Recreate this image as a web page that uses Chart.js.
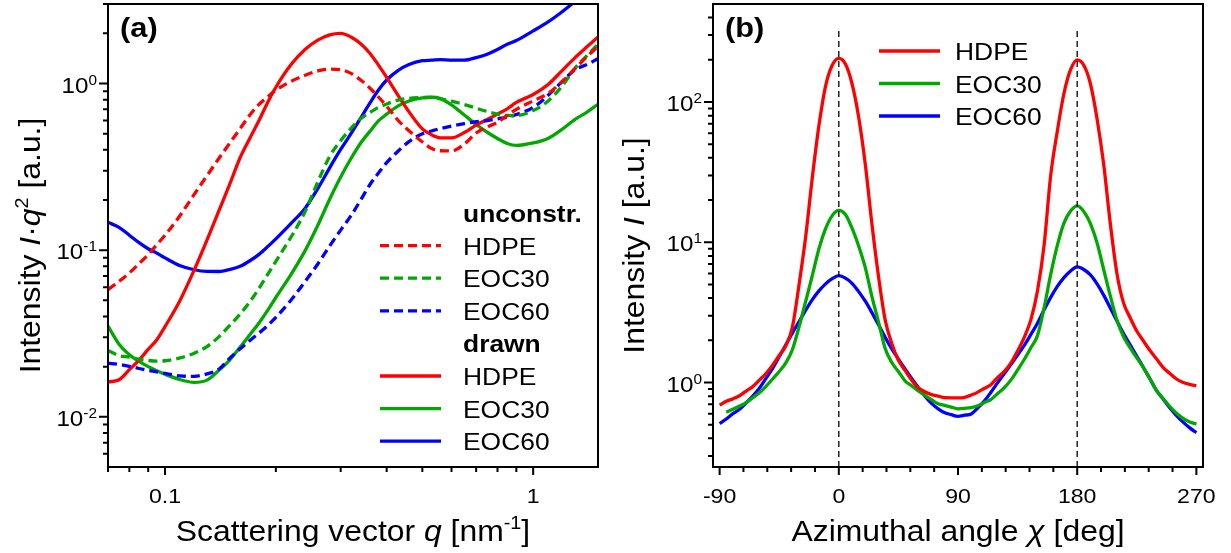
<!DOCTYPE html>
<html>
<head>
<meta charset="utf-8">
<title>Scattering profiles: I·q² and azimuthal intensity</title>
<script src="https://cdn.jsdelivr.net/npm/chart.js@4.4.1/dist/chart.umd.min.js"></script>
<style>
  html, body { margin: 0; padding: 0; background: #fff; }
  #wrap { position: relative; width: 1231px; height: 553px; }
  canvas { position: absolute; top: 0; }
  #chartQ { left: 0; }
  #chartChi { left: 615px; }
</style>
</head>
<body>
<div id="wrap">
  <canvas id="chartQ" width="615" height="553"></canvas>
  <canvas id="chartChi" width="616" height="553"></canvas>
</div>
<script>
// ---- (a) Lorentz-corrected intensity vs. scattering vector ----
const qValues = [0.07, 0.075, 0.08, 0.085, 0.09, 0.095, 0.1, 0.11, 0.12, 0.13, 0.14, 0.15, 0.16, 0.17, 0.18, 0.19,
  0.2, 0.22, 0.24, 0.26, 0.28, 0.3, 0.32, 0.34, 0.36, 0.38, 0.4, 0.43, 0.46, 0.5, 0.53, 0.56, 0.6, 0.65, 0.7, 0.75,
  0.8, 0.85, 0.9, 1.0, 1.1, 1.2, 1.3, 1.4, 1.5];

const hdpeUnconstr = [0.058, 0.065, 0.073, 0.083, 0.094, 0.108, 0.123, 0.162, 0.216, 0.28, 0.355, 0.44, 0.537, 0.648, 0.75, 0.83,
  0.912, 1.03, 1.12, 1.19, 1.22, 1.21, 1.15, 1.05, 0.94, 0.83, 0.73, 0.6, 0.52, 0.446, 0.407, 0.395, 0.394, 0.433, 0.505, 0.548,
  0.586, 0.643, 0.7, 0.787, 0.875, 1.03, 1.23, 1.45, 1.67];
const eoc30Unconstr = [0.025, 0.0233, 0.0228, 0.0222, 0.0218, 0.0216, 0.0217, 0.0226, 0.0241, 0.0264, 0.0302, 0.0354, 0.0414, 0.049, 0.059, 0.0715,
  0.0858, 0.12, 0.17, 0.257, 0.365, 0.454, 0.538, 0.615, 0.67, 0.72, 0.754, 0.796, 0.815, 0.824, 0.826, 0.81, 0.784, 0.748, 0.711, 0.68,
  0.655, 0.643, 0.642, 0.688, 0.789, 0.97, 1.24, 1.47, 1.72];
const eoc60Unconstr = [0.021, 0.0206, 0.0201, 0.0195, 0.019, 0.0186, 0.0182, 0.0176, 0.0175, 0.0181, 0.0193, 0.0225, 0.0256, 0.0287, 0.0318, 0.0353,
  0.0395, 0.0502, 0.0648, 0.0826, 0.106, 0.132, 0.161, 0.2, 0.247, 0.29, 0.335, 0.394, 0.448, 0.499, 0.519, 0.537, 0.555, 0.574, 0.59, 0.598,
  0.614, 0.628, 0.652, 0.718, 0.853, 1.03, 1.21, 1.3, 1.41];
const hdpeDrawn = [0.0162, 0.0167, 0.0192, 0.0219, 0.0254, 0.029, 0.0348, 0.0503, 0.076, 0.115, 0.172, 0.25, 0.36, 0.47, 0.6, 0.77,
  0.95, 1.3, 1.6, 1.82, 1.96, 2.0, 1.9, 1.73, 1.52, 1.29, 1.09, 0.845, 0.676, 0.534, 0.492, 0.472, 0.472, 0.508, 0.563, 0.608,
  0.655, 0.705, 0.77, 0.859, 0.99, 1.2, 1.43, 1.66, 1.9];
const eoc30Drawn = [0.035, 0.0273, 0.0236, 0.0215, 0.02, 0.0189, 0.018, 0.0167, 0.0161, 0.0166, 0.019, 0.022, 0.0262, 0.0311, 0.0366, 0.0435,
  0.052, 0.0716, 0.099, 0.141, 0.202, 0.275, 0.355, 0.44, 0.516, 0.597, 0.655, 0.734, 0.786, 0.82, 0.827, 0.812, 0.745, 0.647, 0.568, 0.51,
  0.468, 0.437, 0.425, 0.44, 0.47, 0.533, 0.61, 0.674, 0.75];
const eoc60Drawn = [0.147, 0.137, 0.123, 0.111, 0.102, 0.096, 0.0899, 0.0806, 0.0763, 0.0746, 0.0745, 0.0766, 0.08, 0.0864, 0.0944, 0.105,
  0.117, 0.145, 0.178, 0.234, 0.312, 0.402, 0.5, 0.62, 0.762, 0.914, 1.05, 1.2, 1.3, 1.37, 1.38, 1.39, 1.38, 1.38, 1.43, 1.5,
  1.6, 1.72, 1.81, 2.07, 2.35, 2.7, 3.1, 3.5, 4.0];

const qMajorTicks = [0.1, 1];
const qTickLabels = ['0.1', '1'];
const qMinorTicks = [0.07, 0.08, 0.09, 0.2, 0.3, 0.4, 0.5, 0.6, 0.7, 0.8, 0.9];
const iqDecades = [-2, -1, 0];
const iqMinorTicks = [0.006, 0.007, 0.008, 0.009, 0.02, 0.03, 0.04, 0.05, 0.06, 0.07, 0.08, 0.09,
  0.2, 0.3, 0.4, 0.5, 0.6, 0.7, 0.8, 0.9, 2, 3];

// ---- (b) azimuthal intensity profiles ----
const chiValues = [-90, -85, -80, -75, -70, -65, -60, -55, -50, -45, -40, -35, -30, -25, -20, -15, -10, -5,
  0, 5, 10, 15, 20, 25, 30, 35, 40, 45, 50, 55, 60, 65, 70, 75, 80, 85,
  90, 95, 100, 105, 110, 115, 120, 125, 130, 135, 140, 145, 150, 155, 160, 165, 170, 175,
  180, 185, 190, 195, 200, 205, 210, 215, 220, 225, 230, 235, 240, 245, 250, 255, 260, 265, 270];

const hdpeAzimuthal = [0.69, 0.735, 0.765, 0.805, 0.87, 0.935, 1.04, 1.16, 1.33, 1.56, 1.83, 2.5, 5.0, 11, 29, 68, 130, 183,
  205, 187, 135, 78, 36, 13.5, 5.7, 2.8, 1.9, 1.44, 1.22, 1.04, 0.92, 0.86, 0.82, 0.8, 0.78, 0.778,
  0.778, 0.785, 0.815, 0.855, 0.91, 0.97, 1.09, 1.2, 1.38, 1.68, 2.1, 2.8, 4.5, 9.5, 30, 62, 115, 170,
  200, 183, 135, 76, 36, 13.6, 6.0, 3.7, 2.9, 2.33, 1.98, 1.69, 1.47, 1.28, 1.16, 1.06, 1.0, 0.97, 0.95];
const eoc30Azimuthal = [null, 0.615, 0.645, 0.68, 0.72, 0.78, 0.845, 0.94, 1.06, 1.2, 1.38, 1.72, 2.5, 3.8, 5.8, 9.0, 12.5, 15.5,
  16.9, 15.8, 12.6, 9.4, 6.6, 4.1, 2.7, 1.75, 1.39, 1.2, 1.03, 0.95, 0.87, 0.81, 0.755, 0.706, 0.687, 0.668,
  0.65, 0.655, 0.663, 0.683, 0.72, 0.76, 0.835, 0.92, 1.045, 1.23, 1.46, 1.77, 2.16, 3.4, 5.9, 9.5, 13.7, 16.7,
  18.2, 16.6, 13.6, 9.9, 6.4, 4.15, 2.79, 2.12, 1.77, 1.5, 1.28, 1.06, 0.873, 0.767, 0.673, 0.604, 0.555, 0.523, 0.506];
const eoc60Azimuthal = [0.51, 0.55, 0.6, 0.645, 0.716, 0.8, 0.91, 1.07, 1.26, 1.53, 1.86, 2.26, 2.72, 3.28, 3.9, 4.5, 5.05, 5.5,
  5.78, 5.55, 5.1, 4.45, 3.8, 3.15, 2.58, 2.1, 1.74, 1.47, 1.25, 1.07, 0.92, 0.8, 0.71, 0.65, 0.61, 0.59,
  0.574, 0.585, 0.597, 0.66, 0.74, 0.857, 1.0, 1.16, 1.35, 1.57, 1.84, 2.2, 2.65, 3.3, 4.05, 4.85, 5.6, 6.25,
  6.68, 6.4, 5.85, 5.05, 4.2, 3.4, 2.75, 2.24, 1.86, 1.54, 1.28, 1.06, 0.875, 0.759, 0.658, 0.582, 0.522, 0.475, 0.44];

// dashed guides through the two equatorial maxima
const peakAngles = [0, 180];
const guideRange = [0.25, 330];

const chiMajorTicks = [-90, 0, 90, 180, 270];
const chiTickLabels = ['-90', '0', '90', '180', '270'];
const chiMinorTicks = [-72, -54, -36, -18, 18, 36, 54, 72, 108, 126, 144, 162, 198, 216, 234, 252];
const azDecades = [0, 1, 2];
const azMinorTicks = [0.3, 0.4, 0.5, 0.6, 0.7, 0.8, 0.9, 2, 3, 4, 5, 6, 7, 8, 9,
  20, 30, 40, 50, 60, 70, 80, 90, 200, 300, 400];

const FONT = '"Liberation Sans", Arial, Helvetica, sans-serif';
const TEXT_STRETCH = 1.1;   // the lettering is a little wider than plain Arial
const LINE_W = 3.3;
const RED = '#ff0000';
const GREEN = '#00a800';
const BLUE = '#0000ff';

function toPoints(xs, ys) {
  const pts = [];
  xs.forEach((x, i) => { if (ys[i] !== null) pts.push({ x: x, y: ys[i] }); });
  return pts;
}

function curve(label, xs, ys, color, dashed) {
  return {
    label: label,
    data: toPoints(xs, ys),
    borderColor: color,
    borderWidth: LINE_W,
    borderDash: dashed ? [9, 5] : [],
    borderCapStyle: 'butt',
    borderJoinStyle: 'round',
    pointRadius: 0,
    fill: false,
    cubicInterpolationMode: 'monotone'
  };
}

/* Text helpers. Everything is written with a slight horizontal stretch;
   segments can be italic, bold or raised (superscript). */
function segFont(s, size) {
  const px = s.sup ? Math.round(size * 0.62) : size;
  return (s.italic ? 'italic ' : '') + (s.bold ? 'bold ' : '') + px + 'px ' + FONT;
}
function richWidth(ctx, segs, size) {
  let w = 0;
  segs.forEach(s => { ctx.font = segFont(s, size); w += ctx.measureText(s.text).width; });
  return w * TEXT_STRETCH;
}
function drawRich(ctx, segs, size, x, y) {
  ctx.save();
  ctx.translate(x, y);
  ctx.scale(TEXT_STRETCH, 1);
  ctx.textAlign = 'left';
  ctx.textBaseline = 'alphabetic';
  let cx = 0;
  segs.forEach(s => {
    ctx.font = segFont(s, size);
    ctx.fillText(s.text, cx, s.sup ? -size * 0.4 : 0);
    cx += ctx.measureText(s.text).width;
  });
  ctx.restore();
}
function textWidth(ctx, text, font) {
  ctx.font = font;
  return ctx.measureText(text).width * TEXT_STRETCH;
}
function drawText(ctx, text, font, x, y) {
  ctx.save();
  ctx.translate(x, y);
  ctx.scale(TEXT_STRETCH, 1);
  ctx.font = font;
  ctx.textAlign = 'left';
  ctx.textBaseline = 'alphabetic';
  ctx.fillText(text, 0, 0);
  ctx.restore();
}

/**
 * Frame, outward ticks, decade labels, axis titles, legend and panel letter.
 * Everything is positioned through the chart's own scales.
 */
const axisDecor = {
  id: 'axisDecor',
  afterDraw(chart, args, o) {
    const ctx = chart.ctx;
    const a = chart.chartArea;
    const xs = chart.scales.x;
    const ys = chart.scales.y;
    ctx.save();
    ctx.fillStyle = '#000';
    ctx.strokeStyle = '#000';

    // ticks
    ctx.lineWidth = 2;
    ctx.beginPath();
    o.xMajor.forEach(v => { const x = xs.getPixelForValue(v); ctx.moveTo(x, a.bottom); ctx.lineTo(x, a.bottom + 8); });
    o.xMinor.forEach(v => { const x = xs.getPixelForValue(v); ctx.moveTo(x, a.bottom); ctx.lineTo(x, a.bottom + 5); });
    o.yDecades.forEach(e => { const y = ys.getPixelForValue(Math.pow(10, e)); ctx.moveTo(a.left, y); ctx.lineTo(a.left - 9, y); });
    o.yMinor.forEach(v => { const y = ys.getPixelForValue(v); ctx.moveTo(a.left, y); ctx.lineTo(a.left - 5, y); });
    ctx.stroke();

    // frame
    ctx.strokeRect(a.left, a.top, a.right - a.left, a.bottom - a.top);

    // x tick labels
    const tickFont = '21px ' + FONT;
    o.xMajor.forEach((v, i) => {
      const w = textWidth(ctx, o.xLabels[i], tickFont);
      drawText(ctx, o.xLabels[i], tickFont, xs.getPixelForValue(v) - w / 2, 503);
    });

    // y decade labels: 10 with raised exponent
    const supFont = '14px ' + FONT;
    const baseFont = '22px ' + FONT;
    o.yDecades.forEach(e => {
      const y = ys.getPixelForValue(Math.pow(10, e));
      const right = a.left - 11;
      const supW = textWidth(ctx, String(e), supFont);
      drawText(ctx, String(e), supFont, right - supW, y + 1);
      const baseW = textWidth(ctx, '10', baseFont);
      drawText(ctx, '10', baseFont, right - supW - baseW, y + 9);
    });

    // axis titles (the vertical one sits slightly below the plot centre)
    const tSize = 29;
    const xw = richWidth(ctx, o.xTitle, tSize);
    drawRich(ctx, o.xTitle, tSize, (a.left + a.right) / 2 - xw / 2, 541);
    const yw = richWidth(ctx, o.yTitle, tSize);
    ctx.save();
    ctx.translate(o.yTitleX, (a.top + a.bottom) / 2 + 10);
    ctx.rotate(-Math.PI / 2);
    drawRich(ctx, o.yTitle, tSize, -yw / 2, 0);
    ctx.restore();

    // panel letter
    drawText(ctx, o.panel, 'bold 28px ' + FONT, a.left + 12, 37);

    // legend
    const lg = o.legend;
    lg.rows.forEach((row, i) => {
      const y = lg.top + i * lg.step;
      if (row.header) {
        drawText(ctx, row.header, 'bold 24px ' + FONT, lg.textX, y + 9);
        return;
      }
      const ds = chart.data.datasets[row.dataset];
      ctx.save();
      ctx.strokeStyle = ds.borderColor;
      ctx.lineWidth = ds.borderWidth;
      ctx.setLineDash(ds.borderDash);
      ctx.beginPath();
      ctx.moveTo(lg.x1, y);
      ctx.lineTo(lg.x2, y);
      ctx.stroke();
      ctx.restore();
      drawText(ctx, ds.label, '24px ' + FONT, lg.textX, y + 9);
    });

    ctx.restore();
  }
};

function hiddenAxis(type, min, max, size, horizontal) {
  return {
    type: type, min: min, max: max,
    grid: { display: false },
    border: { display: false },
    ticks: { display: false },
    afterFit: s => { if (horizontal) s.height = size; else s.width = size; }
  };
}

const commonOptions = {
  responsive: false,
  animation: false,
  events: [],
  plugins: { legend: { display: false }, tooltip: { enabled: false } }
};

new Chart(document.getElementById('chartQ'), {
  type: 'line',
  data: {
    datasets: [
      curve('HDPE', qValues, hdpeUnconstr, RED, true),
      curve('EOC30', qValues, eoc30Unconstr, GREEN, true),
      curve('EOC60', qValues, eoc60Unconstr, BLUE, true),
      curve('HDPE', qValues, hdpeDrawn, RED, false),
      curve('EOC30', qValues, eoc30Drawn, GREEN, false),
      curve('EOC60', qValues, eoc60Drawn, BLUE, false)
    ]
  },
  options: Object.assign({}, commonOptions, {
    layout: { padding: { top: 4, right: 17, left: 0, bottom: 0 } },
    scales: {
      x: hiddenAxis('logarithmic', 0.07, 1.5, 86, true),
      y: hiddenAxis('logarithmic', 0.005, 3, 108, false)
    },
    plugins: Object.assign({}, commonOptions.plugins, {
      axisDecor: {
        xMajor: qMajorTicks, xLabels: qTickLabels, xMinor: qMinorTicks,
        yDecades: iqDecades, yMinor: iqMinorTicks,
        xTitle: [{ text: 'Scattering vector ' }, { text: 'q', italic: true }, { text: ' [nm' }, { text: '-1', sup: true }, { text: ']' }],
        yTitle: [{ text: 'Intensity ' }, { text: 'I', italic: true }, { text: '\u00b7' }, { text: 'q', italic: true }, { text: '2', sup: true }, { text: ' [a.u.]' }],
        yTitleX: 40,
        panel: '(a)',
        legend: {
          x1: 380, x2: 441, textX: 463, top: 213, step: 32.6,
          rows: [{ header: 'unconstr.' }, { dataset: 0 }, { dataset: 1 }, { dataset: 2 },
                 { header: 'drawn' }, { dataset: 3 }, { dataset: 4 }, { dataset: 5 }]
        }
      }
    })
  }),
  plugins: [axisDecor]
});

function guide(angle) {
  return {
    label: 'guide',
    data: [{ x: angle, y: guideRange[0] }, { x: angle, y: guideRange[1] }],
    borderColor: '#000',
    borderWidth: 1.3,
    borderDash: [6, 4],
    pointRadius: 0,
    fill: false
  };
}

new Chart(document.getElementById('chartChi'), {
  type: 'line',
  data: {
    datasets: [
      guide(peakAngles[0]),
      guide(peakAngles[1]),
      curve('HDPE', chiValues, hdpeAzimuthal, RED, false),
      curve('EOC30', chiValues, eoc30Azimuthal, GREEN, false),
      curve('EOC60', chiValues, eoc60Azimuthal, BLUE, false)
    ]
  },
  options: Object.assign({}, commonOptions, {
    layout: { padding: { top: 4, right: 28, left: 0, bottom: 0 } },
    scales: {
      x: hiddenAxis('linear', -95, 275, 86, true),
      y: hiddenAxis('logarithmic', 0.25, 500, 98, false)
    },
    plugins: Object.assign({}, commonOptions.plugins, {
      axisDecor: {
        xMajor: chiMajorTicks, xLabels: chiTickLabels, xMinor: chiMinorTicks,
        yDecades: azDecades, yMinor: azMinorTicks,
        xTitle: [{ text: 'Azimuthal angle ' }, { text: '\u03c7', italic: true }, { text: ' [deg]' }],
        yTitle: [{ text: 'Intensity ' }, { text: 'I', italic: true }, { text: ' [a.u.]' }],
        yTitleX: 29,
        panel: '(b)',
        legend: {
          x1: 264, x2: 325, textX: 340, top: 51, step: 32.5,
          rows: [{ dataset: 2 }, { dataset: 3 }, { dataset: 4 }]
        }
      }
    })
  }),
  plugins: [axisDecor]
});
</script>
</body>
</html>
